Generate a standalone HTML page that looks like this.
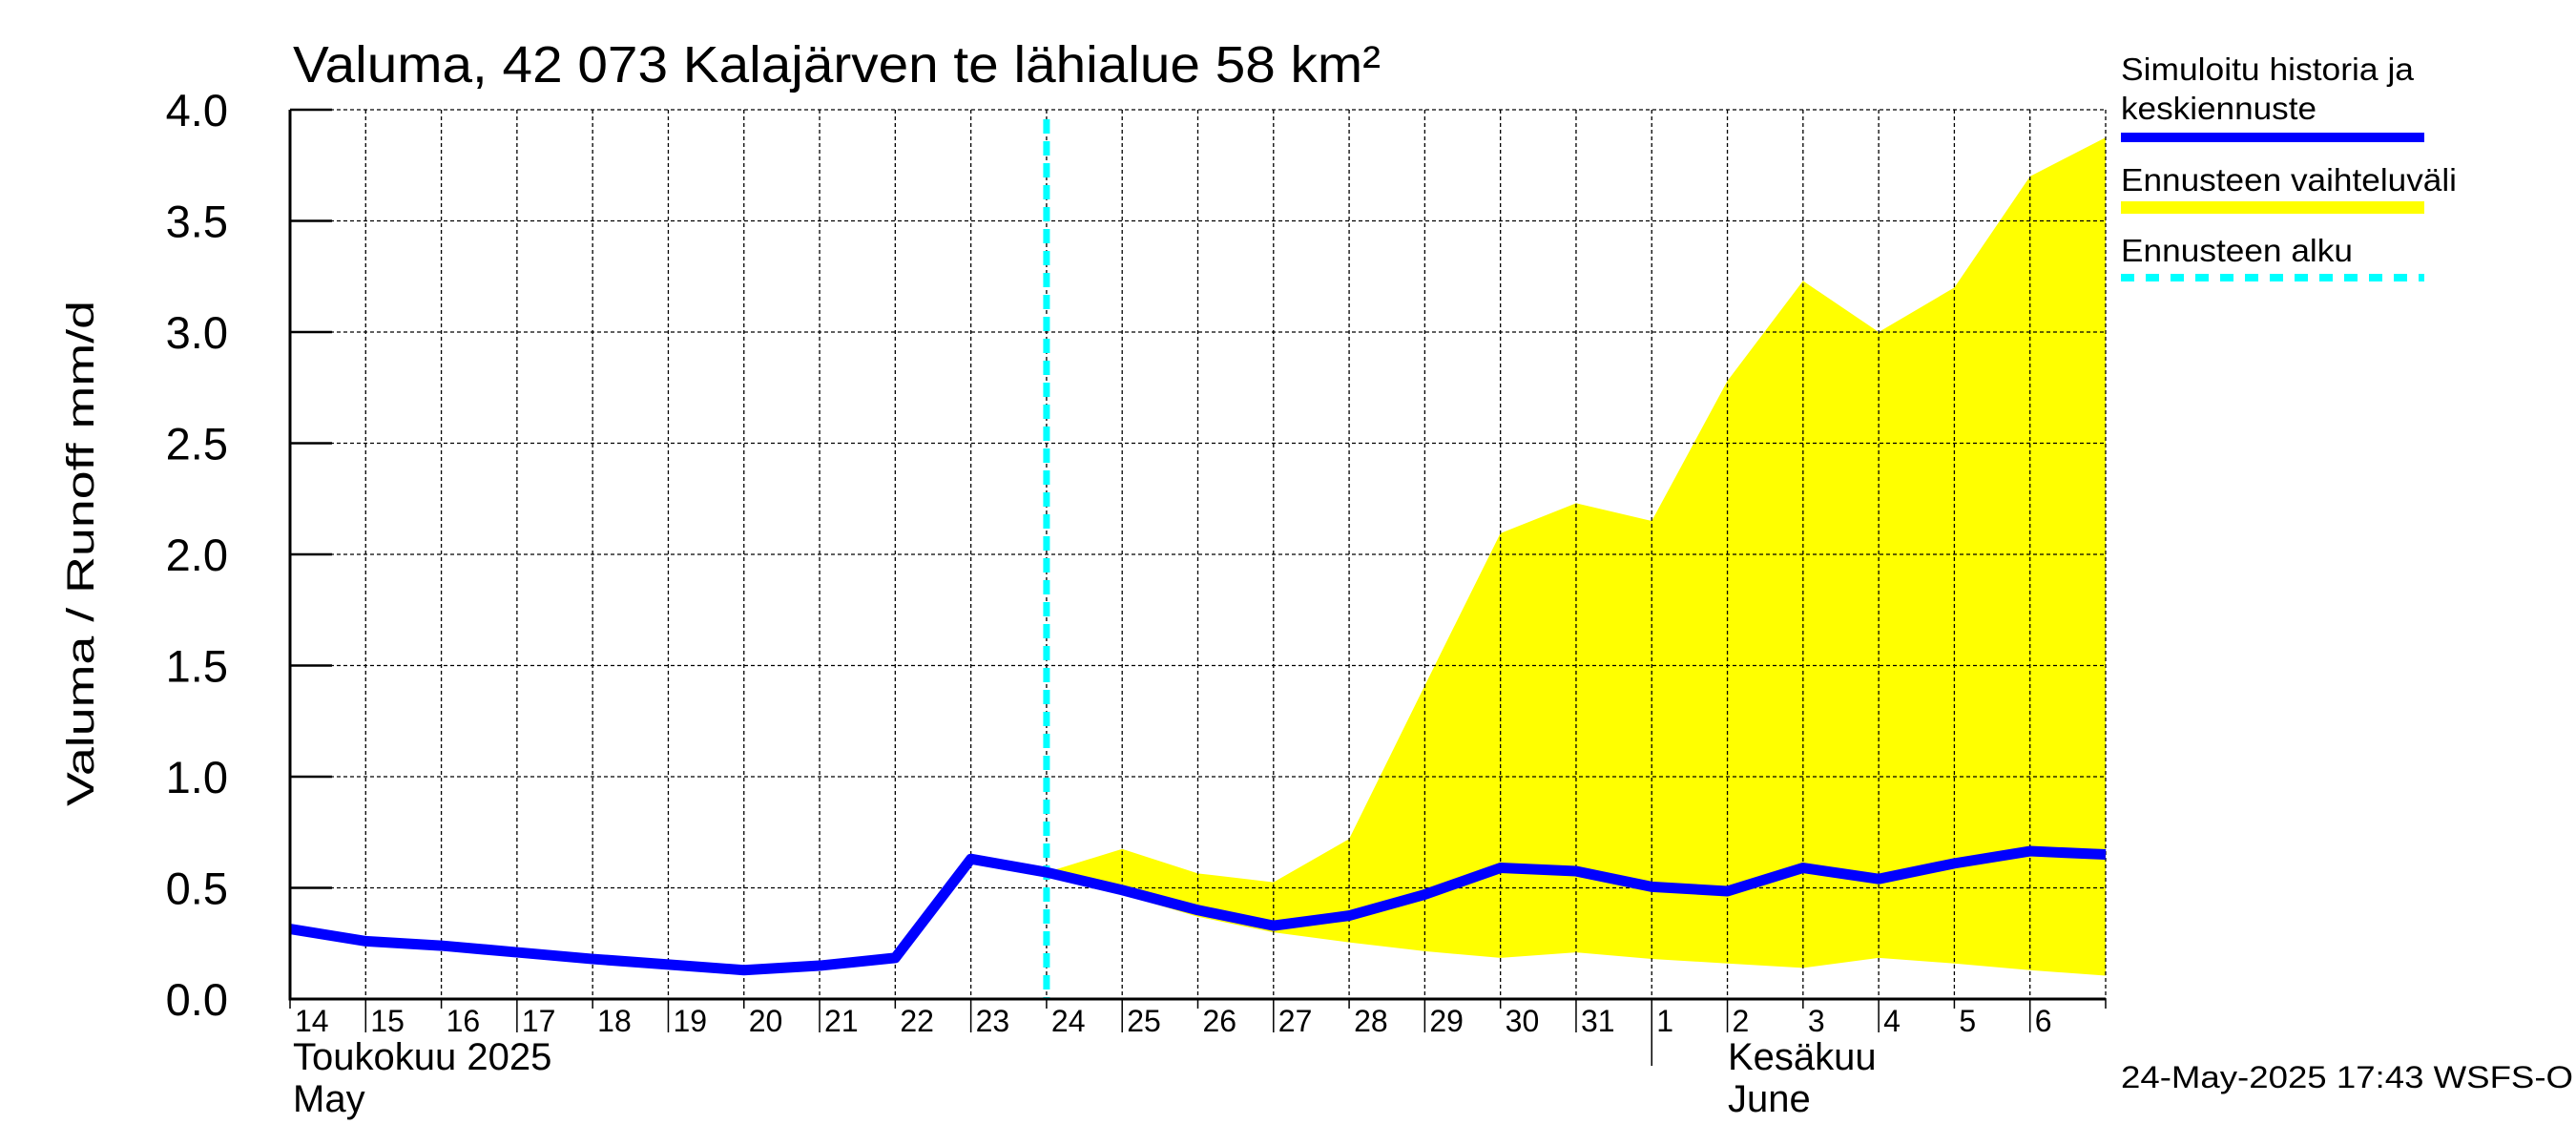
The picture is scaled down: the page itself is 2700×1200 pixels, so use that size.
<!DOCTYPE html>
<html><head><meta charset="utf-8"><style>
html,body{margin:0;padding:0;background:#fff;}
svg{display:block;font-family:"Liberation Sans",sans-serif;}
</style></head><body>
<svg id="chart" width="2700" height="1200" viewBox="0 0 2700 1200" xmlns="http://www.w3.org/2000/svg">
<text x="307" y="86" font-size="54" textLength="1140" lengthAdjust="spacingAndGlyphs">Valuma, 42 073 Kalajärven te lähialue 58 km²</text>
<text transform="translate(98,580) rotate(-90)" text-anchor="middle" font-size="40" textLength="530" lengthAdjust="spacingAndGlyphs">Valuma / Runoff    mm/d</text>
<g id="plot"></g>
<g>
<text x="2223" y="84" font-size="33" textLength="307" lengthAdjust="spacingAndGlyphs">Simuloitu historia ja</text>
<text x="2223" y="125" font-size="33" textLength="205" lengthAdjust="spacingAndGlyphs">keskiennuste</text>
<line x1="2223" y1="144" x2="2541" y2="144" stroke="#0000ff" stroke-width="10"/>
<text x="2223" y="200" font-size="33" textLength="352" lengthAdjust="spacingAndGlyphs">Ennusteen vaihteluväli</text>
<rect x="2223" y="211" width="318" height="13" fill="#ffff00"/>
<text x="2223" y="274" font-size="33" textLength="243" lengthAdjust="spacingAndGlyphs">Ennusteen alku</text>
<line x1="2223" y1="291" x2="2541" y2="291" stroke="#00ffff" stroke-width="8" stroke-dasharray="14,12"/>
</g>
<text x="307" y="1121" font-size="40">Toukokuu  2025</text>
<text x="307" y="1165" font-size="40">May</text>
<text x="1811" y="1121" font-size="40">Kesäkuu</text>
<text x="1811" y="1165" font-size="40">June</text>
<text x="2223" y="1140" font-size="32" textLength="474" lengthAdjust="spacingAndGlyphs">24-May-2025 17:43 WSFS-O</text>
</svg>
<script>
const dayLabels = ["14","15","16","17","18","19","20","21","22","23","24","25","26","27","28","29","30","31","1","2","3","4","5","6","7"];
const yTicks = [0,0.5,1,1.5,2,2.5,3,3.5,4];
const yTickLabels = ["0.0","0.5","1.0","1.5","2.0","2.5","3.0","3.5","4.0"];
const median = [0.315,0.26,0.24,0.21,0.18,0.155,0.13,0.15,0.185,0.63,0.57,0.49,0.40,0.33,0.375,0.47,0.59,0.575,0.505,0.485,0.59,0.54,0.61,0.665,0.65];
const rangeStart = 10;
const upper = [0.57,0.675,0.565,0.525,0.72,1.41,2.095,2.23,2.15,2.78,3.23,3.0,3.2,3.70,3.875];
const lower = [0.57,0.47,0.37,0.30,0.255,0.215,0.185,0.21,0.18,0.16,0.14,0.185,0.16,0.13,0.105];
const forecastDay = 10;
const monthBoundary = 18;

const X0=304, X1=2207, Y0=1047, Y1=115, NDAYS=24;
const x = d => X0 + d*(X1-X0)/NDAYS;
const y = v => Y0 - v*(Y0-Y1)/4;
const NS="http://www.w3.org/2000/svg";
const g=document.getElementById('plot');
function mk(tag, attrs){const e=document.createElementNS(NS,tag);for(const k in attrs)e.setAttribute(k,attrs[k]);g.appendChild(e);return e;}

// band
let pts=[];
for(let i=0;i<upper.length;i++) pts.push(x(rangeStart+i)+","+y(upper[i]));
for(let i=lower.length-1;i>=0;i--) pts.push(x(rangeStart+i)+","+y(lower[i]));
const band=mk('polygon',{points:pts.join(' '),fill:'#ffff00'});



// grid
for(let d=1; d<=NDAYS; d++){
  const l=mk('line',{x1:x(d),x2:x(d),y1:Y1,y2:Y0,stroke:'#000','stroke-width':1.3,'stroke-dasharray':'4,3'});
  
  
}
yTicks.forEach((v,i)=>{
  if(v>0){
    const l=mk('line',{x1:X0,x2:X1,y1:y(v),y2:y(v),stroke:'#000','stroke-width':1.3,'stroke-dasharray':'4,3'});
    
    
  }
  const t=mk('line',{x1:X0,x2:X0+44,y1:y(v),y2:y(v),stroke:'#000','stroke-width':2.5});
  
  
  const tx=mk('text',{x:239,y:y(v)+17,'text-anchor':'end','font-size':47});
  tx.textContent=yTickLabels[i];
  
  
});

// forecast start
const fl=mk('line',{x1:x(forecastDay),x2:x(forecastDay),y1:y(4)+10,y2:Y0,stroke:'#00ffff','stroke-width':7,'stroke-dasharray':'15,8'});



// median line
const mp=median.map((v,i)=>x(i)+","+y(v)).join(' ');
const ml=mk('polyline',{points:mp,fill:'none',stroke:'#0000ff','stroke-width':11,'stroke-linejoin':'round'});



// axes
const ax=mk('polyline',{points:`${X0},${Y1} ${X0},${Y0} ${X1},${Y0}`,fill:'none',stroke:'#000','stroke-width':3});



// x ticks & labels
dayLabels.forEach((lab,i)=>{
  const tk=mk('line',{x1:x(i),x2:x(i),y1:Y0,y2:Y0+(i%2?35:10),stroke:'#000','stroke-width':1.5});
  
  
  if(i<NDAYS){
    const t=mk('text',{x:x(i)+5,y:1081,'font-size':32});
    t.textContent=lab;
    
    
  }
});
const mb=mk('line',{x1:x(monthBoundary),x2:x(monthBoundary),y1:Y0,y2:1117,stroke:'#000','stroke-width':1.5});


</script>
</body></html>
